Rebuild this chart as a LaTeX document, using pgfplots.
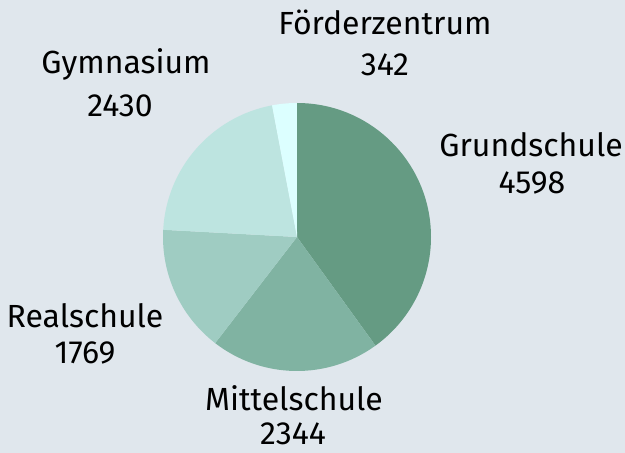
\documentclass[border=0pt]{standalone}
\usepackage{fontspec}
\setmainfont{Fira Sans}
\usepackage{pgfplots}
\usepackage{pgfplotstable}
\pgfplotsset{compat=1.18}

\definecolor{bg}{RGB}{224,231,237}
\definecolor{c0}{RGB}{101,155,131}
\definecolor{c1}{RGB}{128,179,162}
\definecolor{c2}{RGB}{159,204,194}
\definecolor{c3}{RGB}{189,228,224}
\definecolor{c4}{RGB}{220,255,255}

% value, label position (x, baseline y of name and of number)
\pgfplotstableread{
name          value nx  ny  vx  vy
Grundschule   4598  531 296 532 259
Mittelschule  2344  294 42  293 8
Realschule    1769  85  125 85  89
Gymnasium     2430  126 379 120 336
Förderzentrum 342   385 418 385 377
}\schooldata

\begin{document}
\begin{tikzpicture}
\pgfplotstablegetrowsof{\schooldata}
\pgfmathtruncatemacro\lastrow{\pgfplotsretval-1}
\xdef\total{0}
\foreach \i in {0,...,\lastrow}{%
  \pgfplotstablegetelem{\i}{value}\of\schooldata
  \pgfmathsetmacro\t{\total+\pgfplotsretval}\xdef\total{\t}}
\xdef\cur{90}
\foreach \i in {0,...,\lastrow}{%
  \pgfplotstablegetelem{\i}{value}\of\schooldata
  \pgfmathsetmacro\e{\cur-\pgfplotsretval/\total*360}%
  \expandafter\xdef\csname sa\i\endcsname{\cur}%
  \expandafter\xdef\csname ea\i\endcsname{\e}%
  \xdef\cur{\e}}
\begin{axis}[
    width=625pt, height=453pt, scale only axis,
    xmin=0, xmax=625, ymin=0, ymax=453,
    hide axis, clip=false,
]
\fill[bg] (axis cs:0,0) rectangle (axis cs:625,453);
\pgfplotsinvokeforeach{0,...,4}{
  \fill[c#1] (axis cs:297,216) -- ++(\csname sa#1\endcsname:134pt)
     arc[start angle=\csname sa#1\endcsname, end angle=\csname ea#1\endcsname, radius=134pt] -- cycle;
}
\addplot[only marks, mark=none, nodes near coords=\pgfplotspointmeta,
  point meta=explicit symbolic,
  nodes near coords style={anchor=base, inner sep=0pt, font=\fontsize{32}{38}\selectfont, text=black}]
  table[x=nx, y=ny, meta=name] {\schooldata};
\addplot[only marks, mark=none, nodes near coords=\pgfplotspointmeta,
  point meta=explicit symbolic,
  nodes near coords style={anchor=base, inner sep=0pt, font=\fontsize{32}{38}\selectfont, text=black}]
  table[x=vx, y=vy, meta=value] {\schooldata};
\end{axis}
\end{tikzpicture}
\end{document}
